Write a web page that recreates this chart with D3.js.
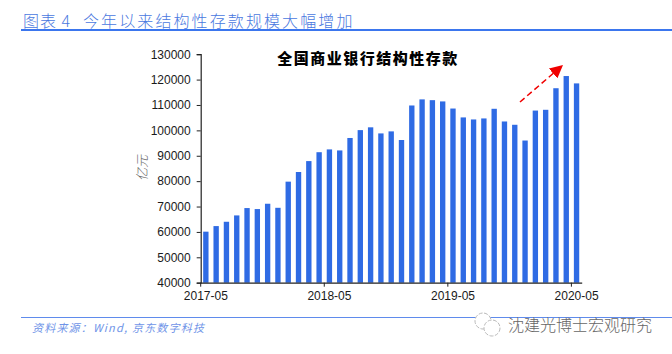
<!DOCTYPE html>
<html lang="zh">

<head>
    <meta charset="UTF-8">
    <title>全国商业银行结构性存款</title>
    <style>
    body {
        margin: 0;
        background: #ffffff;
    }

    svg {
        display: block;
    }

    .tick-label {
        font-family: "Liberation Sans", Arial, sans-serif;
        font-size: 12px;
        fill: #1a1a1a;
    }
    </style>
</head>

<body>
    <svg width="672" height="354"></svg>
    <script src="https://d3js.org/d3.v7.min.js"></script>
    <script>
    // 月份
    const months = [
        "2017-05", "2017-06", "2017-07", "2017-08", "2017-09", "2017-10", "2017-11", "2017-12",
        "2018-01", "2018-02", "2018-03", "2018-04", "2018-05", "2018-06", "2018-07", "2018-08",
        "2018-09", "2018-10", "2018-11", "2018-12", "2019-01", "2019-02", "2019-03", "2019-04",
        "2019-05", "2019-06", "2019-07", "2019-08", "2019-09", "2019-10", "2019-11", "2019-12",
        "2020-01", "2020-02", "2020-03", "2020-04", "2020-05"
    ];
    // 结构性存款, 亿元
    const deposits = [
        60100, 62300, 64000, 66500, 69400, 69000, 71100, 69500,
        79800, 83600, 87900, 91400, 92500, 92100, 97000, 100100,
        101200, 98800, 99600, 96200, 109800, 112200, 111900, 111400,
        108600, 105100, 104300, 104700, 108500, 103500, 102200, 96000,
        107800, 108100, 116600, 121400, 118500
    ];
    const yTicks = [40000, 50000, 60000, 70000, 80000, 90000, 100000, 110000, 120000, 130000];
    const xLabels = ["2017-05", "2018-05", "2019-05", "2020-05"];

    const svg = d3.select("svg");
    const blue = "#2f6be4";
    const cjk = "'Noto Sans CJK SC', sans-serif";

    const x = d3.scaleBand().domain(months).range([200.7, 581.7]).paddingInner(0.48).paddingOuter(0.24);
    const y = d3.scaleLinear().domain([40000, 130000]).range([282.7, 54.2]);

    // 柱子
    svg.append("g")
        .selectAll("rect")
        .data(deposits)
        .join("rect")
        .attr("x", (d, i) => x(months[i]))
        .attr("y", d => y(d))
        .attr("width", x.bandwidth())
        .attr("height", d => y(40000) - y(d))
        .attr("fill", blue);

    // y轴
    const yAxis = svg.append("g")
        .attr("transform", "translate(200.7,0)")
        .call(d3.axisLeft(y).tickValues(yTicks).tickSize(4).tickPadding(6).tickFormat(d3.format("d")));
    yAxis.selectAll("text").attr("class", "tick-label").attr("font-family", null).attr("font-size", null);
    yAxis.selectAll("line, path").attr("stroke", "#222");
    yAxis.select("path").attr("stroke-width", 1.2);

    // x轴: 刻度在月份左边, 标签在月份中间
    const step = x.step();
    const xAxis = svg.append("g")
        .attr("transform", "translate(0,282.7)")
        .call(d3.axisBottom(x).tickValues(xLabels).tickSize(4).tickPadding(5).tickSizeOuter(0));
    xAxis.selectAll("line").attr("x1", -step / 2).attr("x2", -step / 2).attr("stroke", "#222");
    xAxis.select("path").attr("stroke", "#222").attr("stroke-width", 1.2);
    xAxis.selectAll("text").attr("class", "tick-label").attr("font-family", null).attr("font-size", null);

    // 图内标题
    svg.append("text")
        .attr("x", 368).attr("y", 63.5)
        .attr("text-anchor", "middle")
        .attr("font-family", cjk)
        .attr("font-size", 15)
        .attr("font-weight", 900)
        .attr("letter-spacing", 1.5)
        .attr("fill", "#000")
        .text("全国商业银行结构性存款");

    // y轴单位
    svg.append("text")
        .attr("transform", "translate(147,168) rotate(-90)")
        .attr("text-anchor", "middle")
        .attr("font-family", cjk)
        .attr("font-size", 13)
        .attr("font-style", "italic")
        .attr("font-weight", 300)
        .attr("fill", "#666")
        .text("亿元");

    // 红色虚线箭头
    const defs = svg.append("defs");
    defs.append("marker")
        .attr("id", "arrow")
        .attr("viewBox", "0 0 10 10")
        .attr("refX", 10).attr("refY", 5)
        .attr("markerUnits", "userSpaceOnUse")
        .attr("markerWidth", 13).attr("markerHeight", 13)
        .attr("orient", "auto")
        .append("path")
        .attr("d", "M0,0L10,5L0,10Z")
        .attr("fill", "#f00000");
    svg.append("line")
        .attr("x1", 520).attr("y1", 102)
        .attr("x2", 563).attr("y2", 65)
        .attr("stroke", "#f00000")
        .attr("stroke-width", 1.5)
        .attr("stroke-dasharray", "6,3.5")
        .attr("marker-end", "url(#arrow)");

    // 页眉
    const headText = svg.append("g")
        .attr("font-family", cjk)
        .attr("font-size", 16)
        .attr("font-weight", 300)
        .attr("fill", "#4a78e0");
    headText.append("text").attr("x", 23).attr("y", 26.5).attr("letter-spacing", 1).text("图表 4");
    headText.append("text").attr("x", 83).attr("y", 26.5).attr("letter-spacing", 2.1).text("今年以来结构性存款规模大幅增加");
    svg.append("line")
        .attr("x1", 21).attr("x2", 672)
        .attr("y1", 30).attr("y2", 30)
        .attr("stroke", "#3b76ee").attr("stroke-width", 1.8);

    // 页脚
    svg.append("line")
        .attr("x1", 21).attr("x2", 672)
        .attr("y1", 317.5).attr("y2", 317.5)
        .attr("stroke", "#5f8bec").attr("stroke-width", 1);
    svg.append("text")
        .attr("x", 32).attr("y", 331.5)
        .attr("font-family", cjk)
        .attr("font-size", 11)
        .attr("font-style", "italic")
        .attr("letter-spacing", 1.2)
        .attr("fill", "#6f94e8")
        .text("资料来源：Wind, 京东数字科技");

    // 水印
    svg.append("text")
        .attr("x", 508).attr("y", 331)
        .attr("font-family", cjk)
        .attr("font-size", 16)
        .attr("font-weight", 300)
        .attr("fill", "#666")
        .text("沈建光博士宏观研究");
    const logo = svg.append("g").attr("fill", "#fff").attr("stroke", "#bbb").attr("stroke-width", 1).attr("stroke-dasharray", "4,1.5");
    logo.append("circle").attr("cx", 483).attr("cy", 321).attr("r", 8);
    logo.append("circle").attr("cx", 492).attr("cy", 328).attr("r", 8);
    </script>
</body>

</html>
